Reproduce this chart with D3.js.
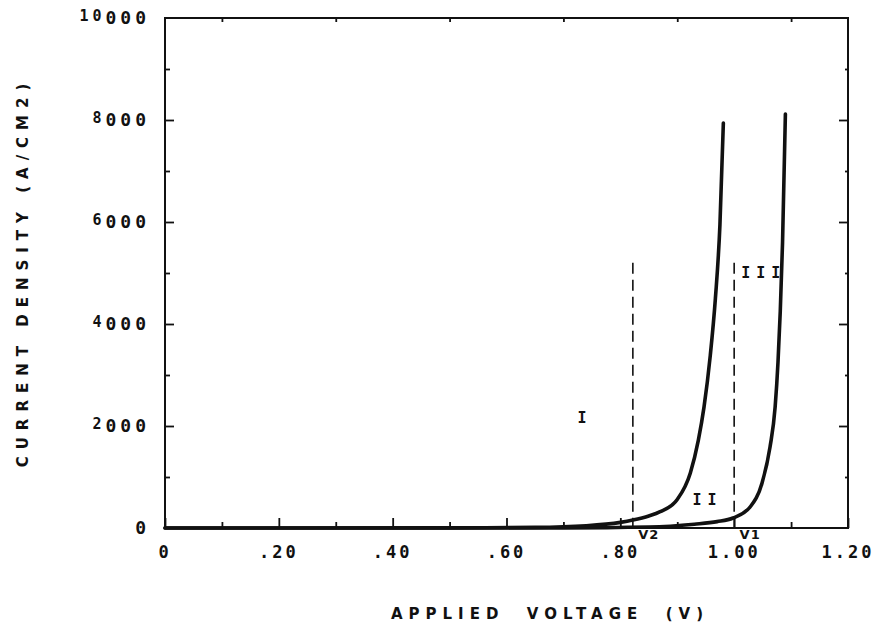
<!DOCTYPE html>
<html>
<head>
<meta charset="utf-8">
<script src="https://cdn.jsdelivr.net/npm/d3@7"></script>
<style>
  html, body { margin: 0; padding: 0; background: #fff; }
  #chart { width: 888px; height: 629px; }
  text { fill: #111; }
  .num { font-family: "DejaVu Sans Mono", monospace; font-weight: 700; }
  .ttl { font-family: "DejaVu Sans", sans-serif; font-weight: 700; white-space: pre; }
  .mono { font-family: "DejaVu Sans Mono", monospace; font-weight: 700; }
</style>
</head>
<body>
<div id="chart"></div>
<script>
// values
const voltsA   = [0, 0.50, 0.65, 0.74, 0.80, 0.822, 0.85, 0.87, 0.90, 0.923, 0.937, 0.947, 0.958, 0.967, 0.975, 0.981];
const currentA = [0, 3, 12, 45, 110, 155, 235, 320, 560, 1080, 1720, 2370, 3380, 4500, 5950, 7940];
const voltsB   = [0, 0.70, 0.85, 0.93, 0.97, 0.998, 1.028, 1.049, 1.063, 1.072, 1.077, 1.081, 1.085, 1.090];
const currentB = [0, 3, 20, 75, 125, 196, 412, 882, 1588, 2373, 3250, 4250, 5600, 8118];

const xTicks = [0, 0.2, 0.4, 0.6, 0.8, 1.0, 1.2];
const xTickLabels = ["0", ".20", ".40", ".60", ".80", "1.00", "1.20"];
const xMinor = [0.1, 0.3, 0.5, 0.7, 0.9, 1.1];
const yTicks = [0, 2000, 4000, 6000, 8000, 10000];
const yTickHead = ["", "2", "4", "6", "8", "10"];   // leading digit(s) printed raised
const yTickTail = ["0", "000", "000", "000", "000", "000"];
const yMinor = [1000, 3000, 5000, 7000, 9000];

const markerVolts = [0.822, 1.00];
const markerLabels = ["V2", "V1"];
const markerTop = 5200;

const regionNames = ["I", "II", "III"];
const regionVolts = [0.738, 0.953, 1.052];
const regionCurrent = [2157, 549, 5000];

const width_svg = 888, height_svg = 629;
const svg = d3.select('#chart').append('svg')
              .attr('width', width_svg)
              .attr('height', height_svg);

const xScale = d3.scaleLinear().domain([0, 1.2]).range([165, 848]);
const yScale = d3.scaleLinear().domain([0, 10000]).range([528, 18]);

// inward ticks on all four sides
let tickAxis = (g, axis) => g.call(axis).call(g => g.select('.domain').remove())
                            .call(g => g.selectAll('.tick line').attr('stroke', '#111').attr('stroke-width', 1.8));
svg.append('g').attr('transform', `translate(0, ${yScale(0)})`)
   .call(g => tickAxis(g, d3.axisBottom(xScale).tickValues(xTicks).tickSize(-10).tickFormat('')));
svg.append('g').attr('transform', `translate(0, ${yScale(0)})`)
   .call(g => tickAxis(g, d3.axisBottom(xScale).tickValues(xMinor).tickSize(-6).tickFormat('')));
svg.append('g').attr('transform', `translate(0, ${yScale(10000)})`)
   .call(g => tickAxis(g, d3.axisTop(xScale).tickValues(xMinor).tickSize(-4).tickFormat('')));
svg.append('g').attr('transform', `translate(${xScale(0)}, 0)`)
   .call(g => tickAxis(g, d3.axisLeft(yScale).tickValues(yTicks.slice(1, 5)).tickSize(-9).tickFormat('')));
svg.append('g').attr('transform', `translate(${xScale(0)}, 0)`)
   .call(g => tickAxis(g, d3.axisLeft(yScale).tickValues(yMinor).tickSize(-5).tickFormat('')));
svg.append('g').attr('transform', `translate(${xScale(1.2)}, 0)`)
   .call(g => tickAxis(g, d3.axisRight(yScale).tickValues(yTicks.slice(1, 5)).tickSize(-9).tickFormat('')));
svg.append('g').attr('transform', `translate(${xScale(1.2)}, 0)`)
   .call(g => tickAxis(g, d3.axisRight(yScale).tickValues(yMinor).tickSize(-3).tickFormat('')));

// frame
svg.append('rect')
   .attr('x', xScale(0)).attr('y', yScale(10000))
   .attr('width', xScale(1.2) - xScale(0))
   .attr('height', yScale(0) - yScale(10000))
   .attr('fill', 'none').attr('stroke', '#111').attr('stroke-width', 2);

// tick labels
svg.append('g').selectAll('text')
   .data(xTicks)
   .enter().append('text')
   .attr('class', 'num')
   .attr('x', d => xScale(d))
   .attr('y', 558)
   .attr('text-anchor', 'middle')
   .attr('font-size', 17)
   .attr('letter-spacing', 3)
   .text((d, i) => xTickLabels[i]);

let yLab = svg.append('g').selectAll('text')
   .data(yTicks)
   .enter().append('text')
   .attr('class', 'num')
   .attr('x', 150)
   .attr('y', d => yScale(d) + 6)
   .attr('text-anchor', 'end')
   .attr('font-size', 18)
   .attr('letter-spacing', 4);
yLab.append('tspan').attr('dy', -3).attr('font-size', 15).text((d, i) => yTickHead[i]);
yLab.append('tspan').attr('dy', (d, i) => yTickHead[i] ? 3 : 0).text((d, i) => yTickTail[i]);

// dashed boundaries V2 / V1
svg.append('g').selectAll('line')
   .data(markerVolts)
   .enter().append('line')
   .attr('x1', d => xScale(d)).attr('x2', d => xScale(d))
   .attr('y1', yScale(markerTop)).attr('y2', yScale(0))
   .attr('stroke', '#111').attr('stroke-width', 1.6)
   .attr('stroke-dasharray', '11,6');
svg.append('g').selectAll('text')
   .data(markerVolts)
   .enter().append('text')
   .attr('class', 'ttl')
   .attr('x', d => xScale(d) + 16)
   .attr('y', 539)
   .attr('text-anchor', 'middle')
   .attr('font-size', 13)
   .attr('letter-spacing', 1)
   .text((d, i) => markerLabels[i]);

// region labels
svg.append('g').selectAll('text')
   .data(regionVolts)
   .enter().append('text')
   .attr('class', 'mono')
   .attr('x', d => xScale(d))
   .attr('y', (d, i) => yScale(regionCurrent[i]) + 5)
   .attr('text-anchor', 'middle')
   .attr('font-size', 15)
   .attr('letter-spacing', 6)
   .text((d, i) => regionNames[i]);

// J-V curves
let line = d3.line()
             .x(d => xScale(d[0]))
             .y(d => yScale(d[1]))
             .curve(d3.curveMonotoneX);
let curves = [d3.zip(voltsA, currentA), d3.zip(voltsB, currentB)];
svg.append('g')
   .attr('fill', 'none')
   .attr('stroke', '#111')
   .attr('stroke-width', 3.6)
   .attr('stroke-linecap', 'round')
   .attr('stroke-linejoin', 'round')
 .selectAll('path')
 .data(curves)
 .enter().append('path')
   .attr('d', d => line(d));

// axis titles
svg.append('text')
   .attr('class', 'ttl')
   .attr('x', 550).attr('y', 619)
   .attr('text-anchor', 'middle')
   .attr('font-size', 15)
   .attr('letter-spacing', 6)
   .text('APPLIED  VOLTAGE  (V)');
svg.append('text')
   .attr('class', 'ttl')
   .attr('transform', 'translate(28, 272) rotate(-90)')
   .attr('text-anchor', 'middle')
   .attr('font-size', 15)
   .attr('letter-spacing', 7)
   .text('CURRENT DENSITY (A/CM2)');
</script>
</body>
</html>
